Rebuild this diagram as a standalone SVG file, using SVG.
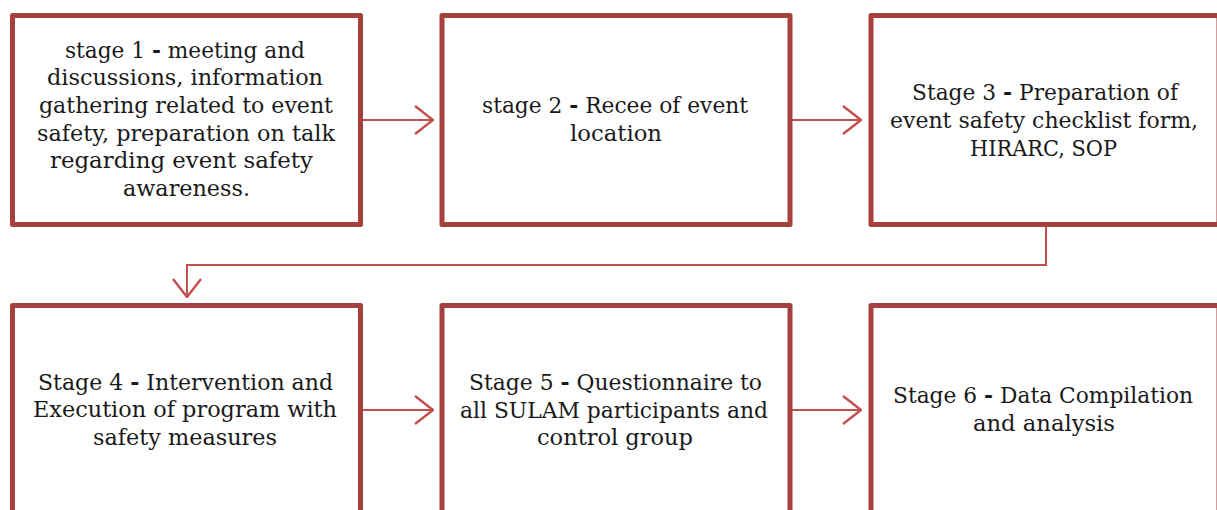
<svg xmlns="http://www.w3.org/2000/svg" width="1217" height="510" viewBox="0 0 1217 510">
<style>
.box{fill:#ffffff;stroke:#a5403f;stroke-width:5;stroke-linejoin:round}
.con{fill:none;stroke:#c0504d;stroke-width:2}
.t{font-family:"DejaVu Serif","Liberation Serif",serif;font-size:22px;fill:#1a1a1a}
.b{font-weight:bold}
</style>
<defs>
<marker id="ah" viewBox="0 0 20 30" refX="19" refY="15" markerWidth="20" markerHeight="30" markerUnits="userSpaceOnUse" orient="auto">
<path d="M1,1 L19,15 L1,29" fill="none" stroke="#c0504d" stroke-width="2.4"/>
</marker>
</defs>
<rect width="1217" height="510" fill="#ffffff"/>
<g id="connectors">
<line class="con" x1="362" y1="120" x2="433" y2="120" marker-end="url(#ah)"/>
<line class="con" x1="792" y1="120" x2="861" y2="120" marker-end="url(#ah)"/>
<polyline class="con" points="1046,227 1046,265 187,265 187,297" marker-end="url(#ah)"/>
<line class="con" x1="362" y1="410" x2="433" y2="410" marker-end="url(#ah)"/>
<line class="con" x1="792" y1="410" x2="861" y2="410" marker-end="url(#ah)"/>
</g>
<g id="stage1">
<rect class="box" x="12.5" y="15.5" width="348" height="209"/>
<text class="t" x="65" y="58" textLength="240" lengthAdjust="spacingAndGlyphs">stage 1 <tspan class="b">-</tspan> meeting and</text>
<text class="t" x="47" y="85" textLength="276" lengthAdjust="spacingAndGlyphs">discussions, information</text>
<text class="t" x="39" y="113" textLength="294" lengthAdjust="spacingAndGlyphs">gathering related to event</text>
<text class="t" x="37" y="141" textLength="298" lengthAdjust="spacingAndGlyphs">safety, preparation on talk</text>
<text class="t" x="50" y="168" textLength="263" lengthAdjust="spacingAndGlyphs">regarding event safety</text>
<text class="t" x="123" y="196" textLength="127" lengthAdjust="spacingAndGlyphs">awareness.</text>
</g>
<g id="stage2">
<rect class="box" x="442" y="15.5" width="348" height="209"/>
<text class="t" x="482" y="113" textLength="266" lengthAdjust="spacingAndGlyphs">stage 2 <tspan class="b">-</tspan> Recee of event</text>
<text class="t" x="570" y="141" textLength="92" lengthAdjust="spacingAndGlyphs">location</text>
</g>
<g id="stage3">
<rect class="box" x="871" y="15.5" width="348" height="209"/>
<text class="t" x="912" y="100" textLength="266" lengthAdjust="spacingAndGlyphs">Stage 3 <tspan class="b">-</tspan> Preparation of</text>
<text class="t" x="890" y="128" textLength="308" lengthAdjust="spacingAndGlyphs">event safety checklist form,</text>
<text class="t" x="970" y="156" textLength="147" lengthAdjust="spacingAndGlyphs">HIRARC, SOP</text>
</g>
<g id="stage4">
<rect class="box" x="12.5" y="305.5" width="348" height="220"/>
<text class="t" x="38" y="390" textLength="295" lengthAdjust="spacingAndGlyphs">Stage 4 <tspan class="b">-</tspan> Intervention and</text>
<text class="t" x="33" y="417" textLength="304" lengthAdjust="spacingAndGlyphs">Execution of program with</text>
<text class="t" x="93" y="445" textLength="184" lengthAdjust="spacingAndGlyphs">safety measures</text>
</g>
<g id="stage5">
<rect class="box" x="442" y="305.5" width="348" height="220"/>
<text class="t" x="469" y="390" textLength="293" lengthAdjust="spacingAndGlyphs">Stage 5 <tspan class="b">-</tspan> Questionnaire to</text>
<text class="t" x="460" y="418" textLength="308" lengthAdjust="spacingAndGlyphs">all SULAM participants and</text>
<text class="t" x="537" y="445" textLength="156" lengthAdjust="spacingAndGlyphs">control group</text>
</g>
<g id="stage6">
<rect class="box" x="871" y="305.5" width="348" height="220"/>
<text class="t" x="893" y="403" textLength="300" lengthAdjust="spacingAndGlyphs">Stage 6 <tspan class="b">-</tspan> Data Compilation</text>
<text class="t" x="973" y="431" textLength="142" lengthAdjust="spacingAndGlyphs">and analysis</text>
</g>
</svg>
